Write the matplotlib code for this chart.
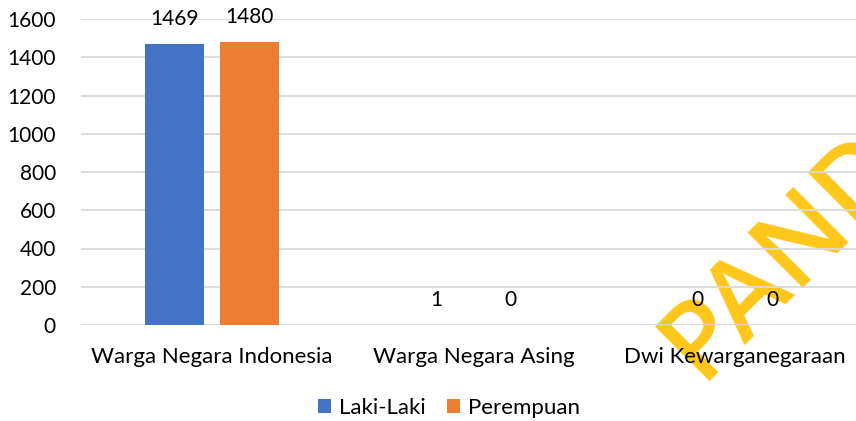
import matplotlib
matplotlib.use("Agg")
import matplotlib.pyplot as plt
import numpy as np

categories = ["Warga Negara Indonesia", "Warga Negara Asing", "Dwi Kewarganegaraan"]
series_names = ["Laki-Laki", "Perempuan"]
laki = [1469, 1, 0]
perempuan = [1480, 0, 0]
yticks = [0, 200, 400, 600, 800, 1000, 1200, 1400, 1600]

colors = ["#4472C4", "#ED7D31"]
FONT = "Lato"
plt.rcParams["font.family"] = [FONT, "DejaVu Sans"]
FS_NUM = 15
FS_TXT = 16

W, H = 856, 421
fig = plt.figure(figsize=(W / 100, H / 100), dpi=100)
left, right = 81, 866
top, bottom = 19, 325
ax = fig.add_axes([left / W, 1 - bottom / H, (right - left) / W, (bottom - top) / H])
ax.patch.set_alpha(0)
ax.set_zorder(2)

x = np.arange(len(categories))
bw = 0.225
off = 0.143
b1 = ax.bar(x - off, laki, bw, color=colors[0], label=series_names[0], zorder=3)
b2 = ax.bar(x + off, perempuan, bw, color=colors[1], label=series_names[1], zorder=3)

for bars, vals in ((b1, laki), (b2, perempuan)):
    for rect, v in zip(bars, vals):
        ax.annotate(str(v), (rect.get_x() + rect.get_width() / 2, v),
                    xytext=(0, 18), textcoords="offset points",
                    ha="center", va="center", fontsize=FS_NUM, color="#000000")

ax.set_xlim(-0.5, 2.5)
ax.set_ylim(0, 1600)
ax.set_yticks(yticks)
ax.set_yticklabels([str(t) for t in yticks], fontsize=FS_NUM, color="#000000")
ax.set_xticks(x)
ax.set_xticklabels(categories, fontsize=FS_TXT, color="#000000")
ax.tick_params(axis="both", length=0)
ax.tick_params(axis="y", pad=18)
ax.tick_params(axis="x", pad=16)
for s in ax.spines.values():
    s.set_visible(False)
ax.grid(axis="y", color="#D9D9D9", linewidth=1.3, zorder=0)
ax.set_axisbelow(True)

leg = fig.legend(handles=[b1, b2], labels=series_names, loc="center",
                 bbox_to_anchor=(449 / W, 1 - 408 / H), ncol=2, frameon=False,
                 fontsize=FS_TXT, handlelength=0.6, handleheight=0.6,
                 handletextpad=0.35, columnspacing=0.95)

# watermark (behind the chart)
fig.text(700 / W, 1 - 381 / H, "PAND", rotation=45, rotation_mode="anchor",
         color="#FFC71A", fontsize=78, family="Open Sans", fontweight="semibold",
         ha="left", va="baseline", zorder=1)

fig.savefig("out.png", dpi=100)
